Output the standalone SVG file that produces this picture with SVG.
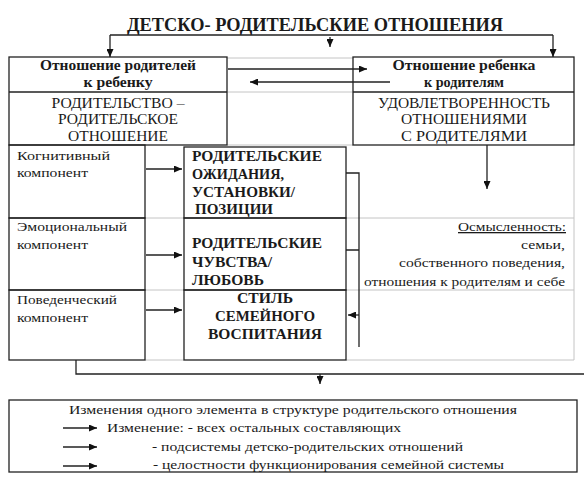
<svg xmlns="http://www.w3.org/2000/svg" width="584" height="484" viewBox="0 0 584 484">
<style>
text{fill:#1a1a1a;font-family:"Liberation Serif","Times New Roman",serif;}
.t{font-size:18px;font-weight:bold;}
.h{font-size:14px;font-weight:bold;}
.n{font-size:14px;}
.s{font-size:13px;}
.b{font-size:14px;font-weight:bold;}
.c{text-anchor:middle;}
.r{text-anchor:end;}
.box{fill:none;stroke:#222;stroke-width:1.3;}
.grid{fill:none;stroke:#c4c4c4;stroke-width:1;}
.ln{fill:none;stroke:#222;stroke-width:1.3;}
</style>
<defs>
<marker id="ah" markerUnits="userSpaceOnUse" markerWidth="8" markerHeight="7" refX="8" refY="3.5" orient="auto">
<path d="M0,0 L8,3.5 L0,7 z" fill="#111"/>
</marker>
</defs>
<rect width="584" height="484" fill="#fff"/>

<g id="grid">
<path class="grid" d="M227,58 H353 M227,92 H353 M227,145 H353 M145,218 H184 M346,218 H574 M145,290 H184 M346,290 H574 M145,360 H184 M346,360 H574 M574,145 V360"/>
</g>

<g id="title">
<text class="t c" x="315" y="31" textLength="376" lengthAdjust="spacingAndGlyphs">ДЕТСКО- РОДИТЕЛЬСКИЕ ОТНОШЕНИЯ</text>
</g>

<g id="parent-attitude">
<rect class="box" x="9" y="57" width="218" height="88"/>
<line class="box" x1="9" y1="92" x2="227" y2="92"/>
<text class="h c" x="118" y="70" textLength="156" lengthAdjust="spacingAndGlyphs">Отношение родителей</text>
<text class="h c" x="118" y="87" textLength="69" lengthAdjust="spacingAndGlyphs">к ребенку</text>
<text class="n c" x="118" y="108" textLength="133" lengthAdjust="spacingAndGlyphs">РОДИТЕЛЬСТВО –</text>
<text class="n c" x="118" y="124" textLength="120" lengthAdjust="spacingAndGlyphs">РОДИТЕЛЬСКОЕ</text>
<text class="n c" x="118" y="141" textLength="100" lengthAdjust="spacingAndGlyphs">ОТНОШЕНИЕ</text>
</g>

<g id="child-attitude">
<rect class="box" x="353" y="57" width="221" height="88"/>
<line class="box" x1="353" y1="92" x2="574" y2="92"/>
<text class="h c" x="464" y="70" textLength="143" lengthAdjust="spacingAndGlyphs">Отношение ребенка</text>
<text class="h c" x="464" y="87" textLength="80" lengthAdjust="spacingAndGlyphs">к родителям</text>
<text class="n c" x="464" y="108" textLength="172" lengthAdjust="spacingAndGlyphs">УДОВЛЕТВОРЕННОСТЬ</text>
<text class="n c" x="464" y="124" textLength="126" lengthAdjust="spacingAndGlyphs">ОТНОШЕНИЯМИ</text>
<text class="n c" x="464" y="141" textLength="126" lengthAdjust="spacingAndGlyphs">С РОДИТЕЛЯМИ</text>
</g>

<g id="cognitive">
<rect class="box" x="9" y="145" width="136" height="73"/>
<text class="s" x="17" y="160" textLength="93" lengthAdjust="spacingAndGlyphs">Когнитивный</text>
<text class="s" x="17" y="177" textLength="71" lengthAdjust="spacingAndGlyphs">компонент</text>
</g>
<g id="emotional">
<rect class="box" x="9" y="218" width="136" height="72"/>
<text class="s" x="17" y="231" textLength="110" lengthAdjust="spacingAndGlyphs">Эмоциональный</text>
<text class="s" x="17" y="249" textLength="71" lengthAdjust="spacingAndGlyphs">компонент</text>
</g>
<g id="behavioral">
<rect class="box" x="9" y="290" width="136" height="70"/>
<text class="s" x="17" y="304" textLength="100" lengthAdjust="spacingAndGlyphs">Поведенческий</text>
<text class="s" x="17" y="322" textLength="71" lengthAdjust="spacingAndGlyphs">компонент</text>
</g>

<g id="expectations">
<rect class="box" x="184" y="147" width="162" height="71"/>
<text class="b" x="192" y="161" textLength="130" lengthAdjust="spacingAndGlyphs">РОДИТЕЛЬСКИЕ</text>
<text class="b" x="192" y="179" textLength="92" lengthAdjust="spacingAndGlyphs">ОЖИДАНИЯ,</text>
<text class="b" x="192" y="197" textLength="103" lengthAdjust="spacingAndGlyphs">УСТАНОВКИ/</text>
<text class="b" x="195" y="214" textLength="78" lengthAdjust="spacingAndGlyphs">ПОЗИЦИИ</text>
</g>
<g id="feelings">
<rect class="box" x="184" y="218" width="162" height="72"/>
<text class="b" x="192" y="248" textLength="130" lengthAdjust="spacingAndGlyphs">РОДИТЕЛЬСКИЕ</text>
<text class="b" x="192" y="267" textLength="80" lengthAdjust="spacingAndGlyphs">ЧУВСТВА/</text>
<text class="b" x="192" y="285" textLength="72" lengthAdjust="spacingAndGlyphs">ЛЮБОВЬ</text>
</g>
<g id="style">
<rect class="box" x="184" y="290" width="162" height="70"/>
<text class="b c" x="265" y="303" textLength="56" lengthAdjust="spacingAndGlyphs">СТИЛЬ</text>
<text class="b c" x="265" y="321" textLength="100" lengthAdjust="spacingAndGlyphs">СЕМЕЙНОГО</text>
<text class="b c" x="265" y="339" textLength="114" lengthAdjust="spacingAndGlyphs">ВОСПИТАНИЯ</text>
</g>

<g id="meaning">
<text class="s r" x="566" y="231" text-decoration="underline" textLength="108" lengthAdjust="spacingAndGlyphs">Осмысленность:</text>
<text class="s r" x="565" y="249" textLength="44" lengthAdjust="spacingAndGlyphs">семьи,</text>
<text class="s r" x="565" y="267" textLength="166" lengthAdjust="spacingAndGlyphs">собственного поведения,</text>
<text class="s r" x="565" y="286" textLength="201" lengthAdjust="spacingAndGlyphs">отношения к родителям и себе</text>
</g>

<g id="summary">
<rect class="box" x="9" y="400" width="568" height="72"/>
<text class="s c" x="293" y="414" textLength="448" lengthAdjust="spacingAndGlyphs">Изменения одного элемента в структуре родительского отношения</text>
<text class="s" x="107" y="432" textLength="294" lengthAdjust="spacingAndGlyphs">Изменение: - всех остальных составляющих</text>
<text class="s" x="152" y="451" textLength="311" lengthAdjust="spacingAndGlyphs">- подсистемы детско-родительских отношений</text>
<text class="s" x="153" y="469" textLength="351" lengthAdjust="spacingAndGlyphs">- целостности функционирования семейной системы</text>
</g>

<g id="connectors">
<path class="ln" d="M110,35 H553"/>
<path class="ln" d="M110,35 V57" marker-end="url(#ah)"/>
<path class="ln" d="M553,35 V57" marker-end="url(#ah)"/>
<path class="ln" d="M330,37 V47" marker-end="url(#ah)"/>
<path class="ln" d="M228,69 H367" marker-end="url(#ah)"/>
<path class="ln" d="M390,82 H250" marker-end="url(#ah)"/>
<path class="ln" d="M487,145 V189" marker-end="url(#ah)"/>
<path class="ln" d="M146,169 H182" marker-end="url(#ah)"/>
<path class="ln" d="M146,255 H182" marker-end="url(#ah)"/>
<path class="ln" d="M146,310 H182" marker-end="url(#ah)"/>
<path class="ln" d="M346,173 H359 V347 M346,250 H359"/>
<path class="ln" d="M359,315 H348" marker-end="url(#ah)"/>
<path class="ln" d="M76,360 V374 H584"/>
<path class="ln" d="M320,374 V384" marker-end="url(#ah)"/>
<path class="ln" d="M63,428 H97" marker-end="url(#ah)"/>
<path class="ln" d="M63,447 H97" marker-end="url(#ah)"/>
<path class="ln" d="M63,466 H97" marker-end="url(#ah)"/>
</g>
</svg>
